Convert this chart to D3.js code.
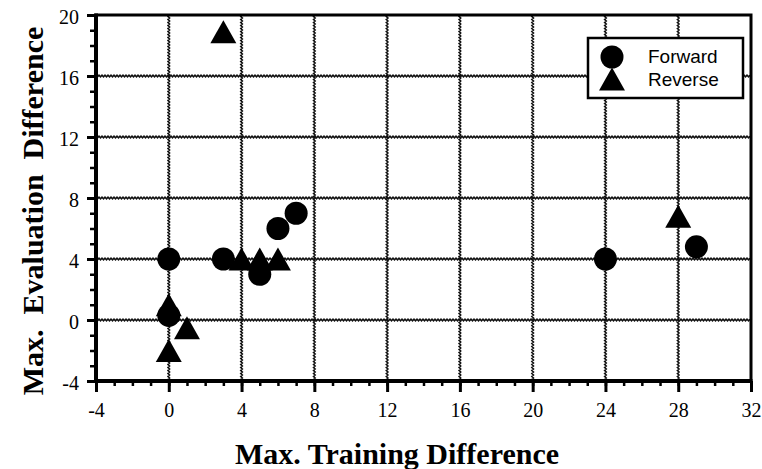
<!DOCTYPE html>
<html>
<head>
<meta charset="utf-8">
<script src="https://cdn.jsdelivr.net/npm/d3@7"></script>
<style>
  body { margin: 0; background: #fff; }
  svg { display: block; }
</style>
</head>
<body>
<svg id="chart" width="762" height="469"></svg>
<script>
// data
const forward_x = [0, 0, 3, 5, 6, 7, 24, 29]
const forward_y = [4, 0.3, 4, 3, 6, 7, 4, 4.8]
const reverse_x = [3, 4, 5, 6, 0, 1, 0, 28]
const reverse_y = [18.9, 4, 4, 4, 1, -0.5, -2, 6.8]
const x_ticks = [-4, 0, 4, 8, 12, 16, 20, 24, 28, 32]
const y_ticks = [-4, 0, 4, 8, 12, 16, 20]
const legend_names = ['Forward', 'Reverse']

const plot = { left: 96, right: 751, top: 15, bottom: 381 }

const svg = d3.select('#chart')

const xScale = d3.scaleLinear().domain([-4, 32]).range([plot.left, plot.right])
const yScale = d3.scaleLinear().domain([-4, 20]).range([plot.bottom, plot.top])

// 网格线：锯齿状，模仿原图的波浪线
const wave = 1.5
function wavyPath(x1, y1, x2, y2) {
    const len = Math.hypot(x2 - x1, y2 - y1),
          n = Math.floor(len / wave),
          ux = (x2 - x1) / len, uy = (y2 - y1) / len
    const pts = d3.range(n + 1).map(k => {
        const off = (k % 2 === 0 ? -0.8 : 0.8)
        return [x1 + ux * k * wave - uy * off, y1 + uy * k * wave + ux * off]
    })
    return d3.line()(pts)
}
const grid = svg.append('g').attr('class', 'grid')
grid.selectAll('.vgrid')
    .data(x_ticks.slice(1, -1))
    .join('path')
    .attr('d', d => wavyPath(xScale(d), plot.top, xScale(d), plot.bottom))
    .attr('fill', 'none')
    .attr('stroke', '#111').attr('stroke-width', 1.6)
grid.selectAll('.hgrid')
    .data(y_ticks.slice(1, -1))
    .join('path')
    .attr('d', d => wavyPath(plot.left, yScale(d), plot.right, yScale(d)))
    .attr('fill', 'none')
    .attr('stroke', '#111').attr('stroke-width', 1.6)

// minor ticks every unit
const minorX = d3.range(-4, 33, 1)
const minorY = d3.range(-4, 21, 1)

const xAxis = svg.append('g')
    .attr('transform', `translate(0,${plot.bottom})`)
    .call(d3.axisBottom(xScale).tickValues(minorX).tickSize(5).tickFormat(''))
xAxis.select('.domain').remove()
xAxis.selectAll('line').attr('stroke', '#000').attr('stroke-width', 2.5)

const xMajor = svg.append('g')
    .attr('transform', `translate(0,${plot.bottom})`)
    .call(d3.axisBottom(xScale).tickValues(x_ticks).tickSize(11).tickPadding(11))
xMajor.select('.domain').remove()
xMajor.selectAll('line').attr('stroke', '#000').attr('stroke-width', 3)
xMajor.selectAll('text')
      .attr('font-family', '"Liberation Serif", serif')
      .attr('font-size', 20)
      .attr('fill', '#000')
      .text(d => d < 0 ? '-' + Math.abs(d) : d)

const yAxis = svg.append('g')
    .attr('transform', `translate(${plot.left},0)`)
    .call(d3.axisLeft(yScale).tickValues(minorY).tickSize(6).tickFormat(''))
yAxis.select('.domain').remove()
yAxis.selectAll('line').attr('stroke', '#000').attr('stroke-width', 2.5)

const yMajor = svg.append('g')
    .attr('transform', `translate(${plot.left},0)`)
    .call(d3.axisLeft(yScale).tickValues(y_ticks).tickSize(9).tickPadding(8))
yMajor.select('.domain').remove()
yMajor.selectAll('line').attr('stroke', '#000').attr('stroke-width', 3)
yMajor.selectAll('text')
      .attr('font-family', '"Liberation Serif", serif')
      .attr('font-size', 20)
      .attr('fill', '#000')
      .attr('dy', '0.4em')
      .text(d => d < 0 ? '-' + Math.abs(d) : d)

// frame
svg.append('rect')
   .attr('x', plot.left).attr('y', plot.top)
   .attr('width', plot.right - plot.left).attr('height', plot.bottom - plot.top)
   .attr('fill', 'none').attr('stroke', '#000').attr('stroke-width', 3)
svg.append('path')
   .attr('d', `M ${plot.left} ${plot.top - 1.5} L ${plot.left} ${plot.bottom} L ${plot.right + 1.5} ${plot.bottom}`)
   .attr('fill', 'none').attr('stroke', '#000').attr('stroke-width', 4)

// marker helpers
const triW = 26, triH = 23, circR = 11.5
function triPath(cx, cy) {
    return `M ${cx} ${cy - triH / 2} L ${cx + triW / 2} ${cy + triH / 2} L ${cx - triW / 2} ${cy + triH / 2} Z`
}

const forward = forward_x.map((x, i) => ({ x: x, y: forward_y[i] }))
const reverse = reverse_x.map((x, i) => ({ x: x, y: reverse_y[i] }))

svg.append('g').selectAll('circle')
   .data(forward)
   .join('circle')
   .attr('cx', d => xScale(d.x))
   .attr('cy', d => yScale(d.y))
   .attr('r', circR)
   .attr('fill', '#000')

svg.append('g').selectAll('path')
   .data(reverse)
   .join('path')
   .attr('d', d => triPath(xScale(d.x), yScale(d.y)))
   .attr('fill', '#000')

// legend
const legend = svg.append('g').attr('transform', 'translate(588,38)')
legend.append('rect')
      .attr('x', 0).attr('y', 0).attr('width', 155).attr('height', 60)
      .attr('fill', '#fff').attr('stroke', '#000').attr('stroke-width', 2.5)
legend.append('circle').attr('cx', 24).attr('cy', 19).attr('r', circR).attr('fill', '#000')
legend.append('path').attr('d', triPath(24, 41)).attr('fill', '#000')
legend.selectAll('.legend-text')
      .data(legend_names)
      .join('text')
      .attr('x', 60)
      .attr('y', (d, i) => 25 + i * 23)
      .attr('font-family', '"Liberation Sans", Arial, sans-serif')
      .attr('font-size', 19)
      .attr('fill', '#000')
      .text(d => d)

// axis titles
svg.append('text')
   .attr('x', 397).attr('y', 464)
   .attr('text-anchor', 'middle')
   .attr('font-family', '"Liberation Serif", serif')
   .attr('font-weight', 'bold')
   .attr('font-size', 30)
   .attr('fill', '#000')
   .text('Max. Training Difference')

svg.append('text')
   .attr('transform', 'translate(43,211) rotate(-90)')
   .attr('text-anchor', 'middle')
   .attr('font-family', '"Liberation Serif", serif')
   .attr('font-weight', 'bold')
   .attr('font-size', 30)
   .attr('fill', '#000')
   .style('white-space', 'pre')
   .text('Max.  Evaluation  Difference')
</script>
</body>
</html>
